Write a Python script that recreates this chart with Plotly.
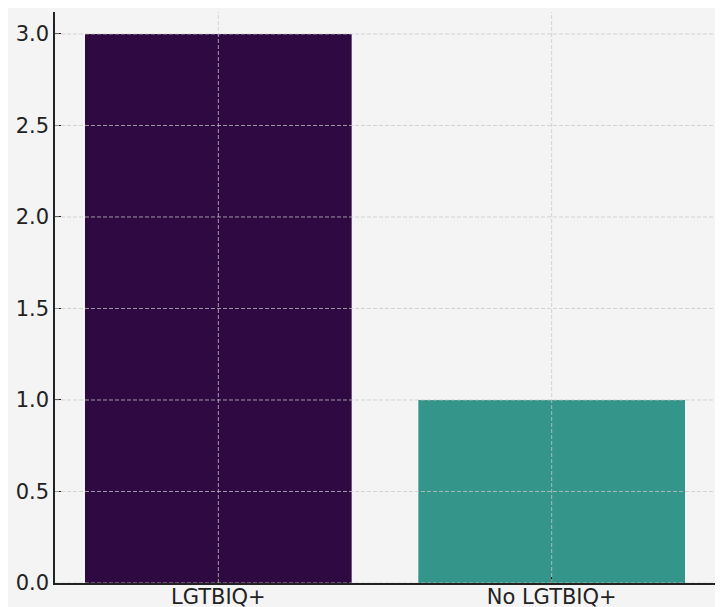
import plotly.graph_objects as go

categories = ["LGTBIQ+", "No LGTBIQ+"]
values = [3, 1]
bar_colors = ["#2f0a42", "#34968a"]
y_ticks = [0.0, 0.5, 1.0, 1.5, 2.0, 2.5, 3.0]
y_tick_labels = ["0.0", "0.5", "1.0", "1.5", "2.0", "2.5", "3.0"]

fig = go.Figure()
fig.add_trace(go.Bar(
    x=categories, y=values, width=0.8,
    marker=dict(color=bar_colors, line=dict(width=0)),
    showlegend=False,
))

grid_style = dict(color="rgba(200,200,200,0.75)", width=1, dash="4px,2px")
shapes = []
for yv in y_ticks:
    shapes.append(dict(type="line", xref="paper", yref="y", x0=0, x1=1, y0=yv, y1=yv,
                       line=grid_style, layer="above"))
for c in categories:
    shapes.append(dict(type="line", xref="x", yref="paper", x0=c, x1=c, y0=0, y1=1,
                       line=grid_style, layer="above"))

fig.update_layout(
    width=715, height=599,
    margin=dict(l=47, r=8, t=4, b=24, autoexpand=False),
    paper_bgcolor="#f4f4f4",
    plot_bgcolor="#f4f4f4",
    font=dict(family="DejaVu Sans", size=21, color="#222222"),
    shapes=shapes,
    bargap=0.2,
)
fig.update_xaxes(
    range=[-0.49, 1.49], showgrid=False, zeroline=False, automargin=False,
    showline=True, linecolor="#222222", linewidth=1.5,
    ticks="inside", ticklen=6, tickcolor="#222222", tickwidth=1,
    ticklabelstandoff=-6,
    layer="above traces",
)
fig.update_yaxes(
    range=[0, 3.12], showgrid=False, zeroline=False, automargin=False,
    tickvals=y_ticks, ticktext=y_tick_labels,
    showline=True, linecolor="#222222", linewidth=1.5,
    ticks="inside", ticklen=6, tickcolor="#222222", tickwidth=1,
    ticklabelstandoff=0,
    layer="above traces",
)

fig.write_html("out.html", config={"displayModeBar": False})
